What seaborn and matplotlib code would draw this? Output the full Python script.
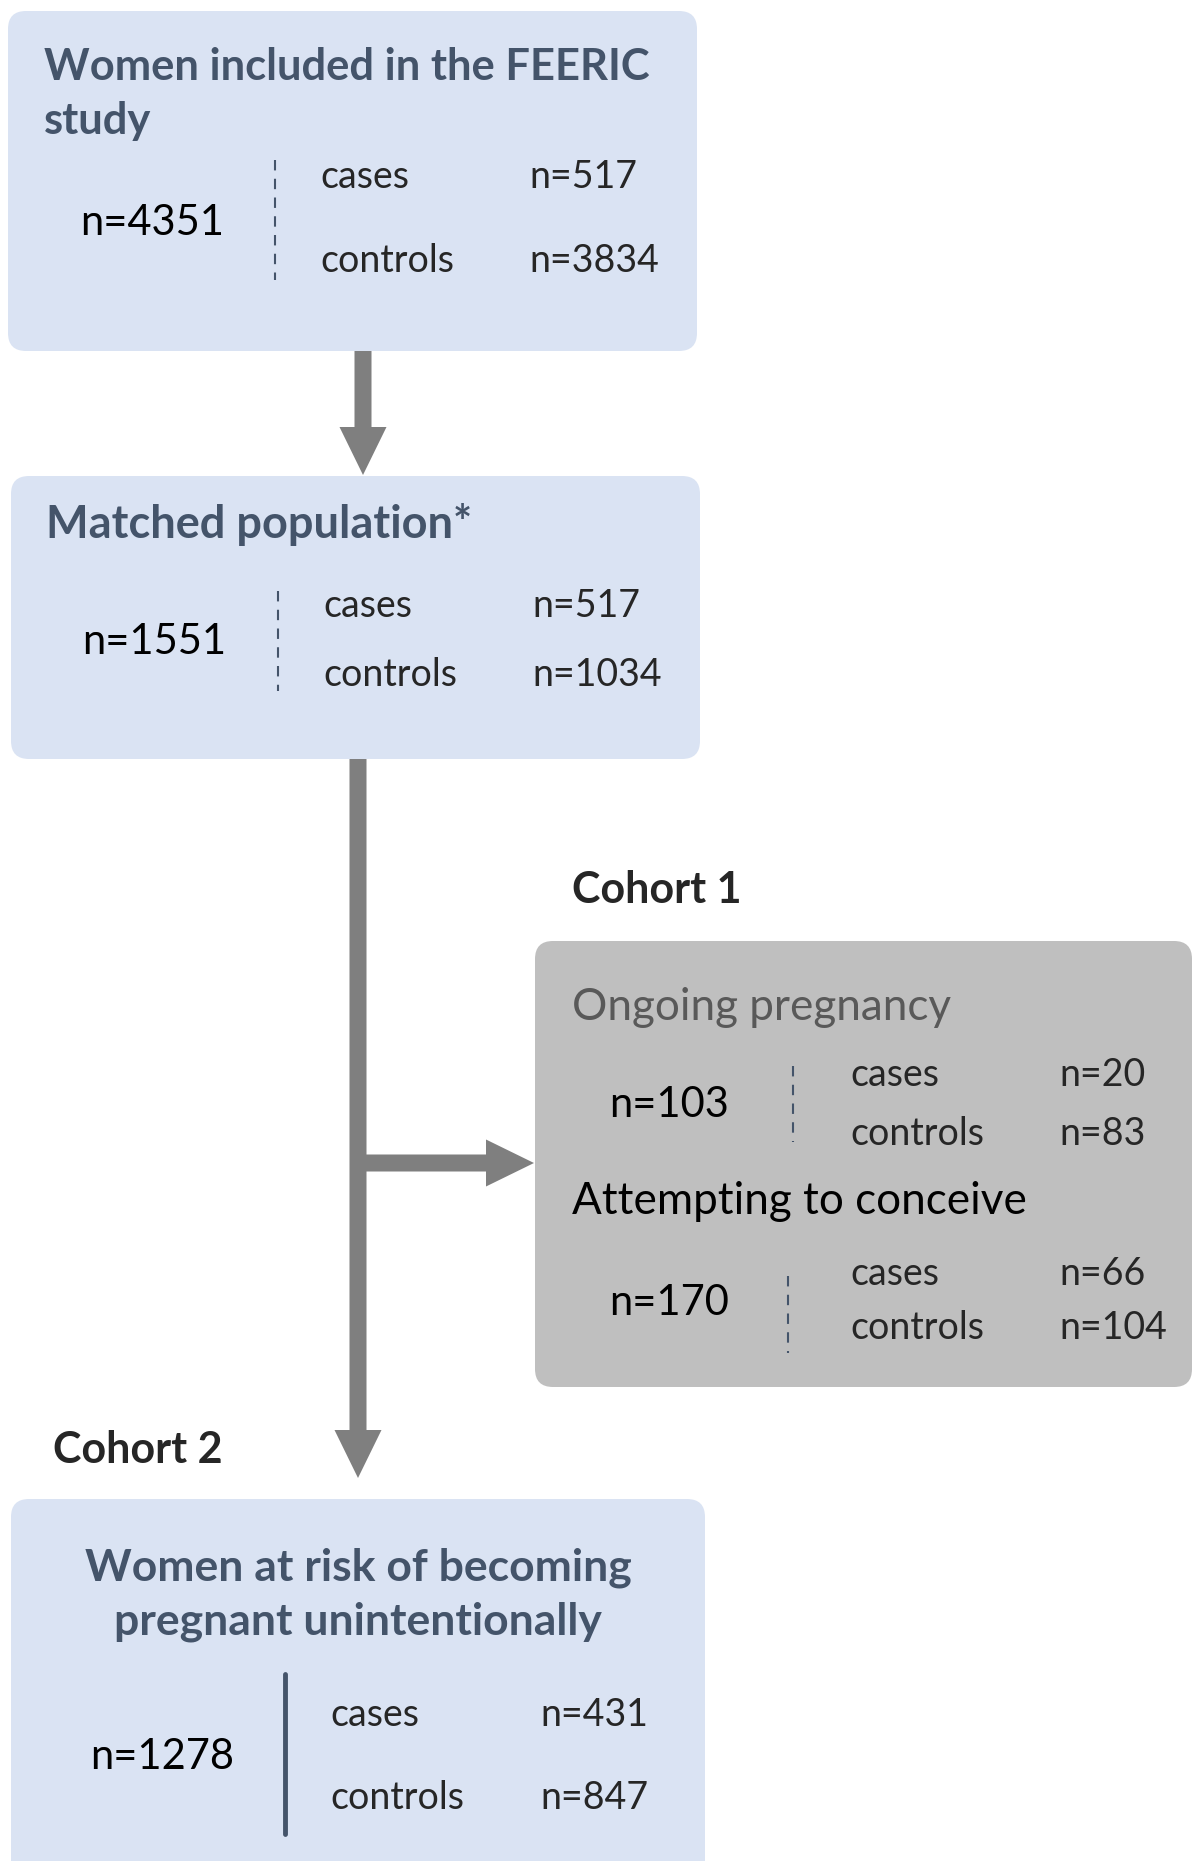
import matplotlib
matplotlib.use("Agg")
import matplotlib.pyplot as plt
from matplotlib.patches import FancyBboxPatch, FancyArrow
import seaborn as sns

# Flowchart data
box_titles = ["Women included in the FEERIC\nstudy", "Matched population*",
              "Ongoing pregnancy", "Attempting to conceive",
              "Women at risk of becoming\npregnant unintentionally"]
totals = [4351, 1551, 103, 170, 1278]
n_cases = [517, 517, 20, 66, 431]
n_controls = [3834, 1034, 83, 104, 847]
group_labels = ["cases", "controls"]
cohort_labels = ["Cohort 1", "Cohort 2"]

sns.set_theme(style="white")
plt.rcParams['font.family'] = ['Lato', 'DejaVu Sans']

W, H = 1199, 1861
fig = plt.figure(figsize=(W / 100, H / 100), dpi=100)
ax = fig.add_axes([0, 0, 1, 1])
ax.set_xlim(0, W)
ax.set_ylim(H, 0)
ax.axis('off')

blue = '#DAE3F3'
gray_box = '#BFBFBF'
arrow_c = '#7F7F7F'
slate = '#44546A'


def rbox(x0, y0, x1, y1, color):
    ax.add_patch(FancyBboxPatch((x0, y0), x1 - x0, y1 - y0,
                                boxstyle="round,pad=0,rounding_size=18",
                                fc=color, ec='none', zorder=1))


def counts(i, x_tot, y_tot, x_div, y_div, x_lab, x_num, y_c, y_k, ls='--', lw=1.5):
    ax.text(x_tot, y_tot, f"n={totals[i]}", fontsize=30, ha='left', va='center', color='black')
    ax.plot([x_div, x_div], y_div, color=slate, lw=lw, ls=ls,
            dashes=(5, 4) if ls == '--' else (None, None), zorder=3)
    ax.text(x_lab, y_c, group_labels[0], fontsize=27, ha='left', va='center')
    ax.text(x_lab, y_k, group_labels[1], fontsize=27, ha='left', va='center')
    ax.text(x_num, y_c, f"n={n_cases[i]}", fontsize=27, ha='left', va='center')
    ax.text(x_num, y_k, f"n={n_controls[i]}", fontsize=27, ha='left', va='center')


# Box 1
rbox(8, 11, 697, 351, blue)
ax.text(44, 94, box_titles[0], fontsize=31.3, fontweight='bold', color=slate,
        ha='left', va='center', linespacing=1.45)
counts(0, 80, 223, 275, [160, 280], 320, 529, 177, 261)

# Arrow 1
ax.add_patch(FancyArrow(363, 351, 0, 124, width=17, head_width=47, head_length=48,
                        length_includes_head=True, color=arrow_c, lw=0))

# Box 2
rbox(11, 476, 700, 759, blue)
ax.text(46, 525, box_titles[1], fontsize=32.5, fontweight='bold', color=slate,
        ha='left', va='center')
counts(1, 82, 642, 278, [591, 691], 323, 532, 606, 675)

# Main shaft + arrow to Cohort 2
ax.add_patch(FancyArrow(358, 759, 0, 719, width=17, head_width=47, head_length=48,
                        length_includes_head=True, color=arrow_c, lw=0))
# Branch arrow to Cohort 1
ax.add_patch(FancyArrow(360, 1163, 174, 0, width=17, head_width=47, head_length=48,
                        length_includes_head=True, color=arrow_c, lw=0))

# Cohort 1 box
ax.text(572, 890, cohort_labels[0], fontsize=31, fontweight='bold', ha='left', va='center')
rbox(535, 941, 1192, 1387, gray_box)
ax.text(572, 1008, box_titles[2], fontsize=31.7, color='#595959', ha='left', va='center')
counts(2, 609, 1105, 793, [1066, 1142], 850, 1059, 1075, 1134)
ax.text(572, 1202, box_titles[3], fontsize=31.7, color='black', ha='left', va='center')
counts(3, 609, 1303, 788, [1276, 1353], 850, 1059, 1274, 1328)

# Cohort 2 box
ax.text(53, 1450, cohort_labels[1], fontsize=31, fontweight='bold', ha='left', va='center')
rbox(11, 1499, 705, 1890, blue)
ax.text(358, 1595, box_titles[4], fontsize=32, fontweight='bold', color=slate,
        ha='center', va='center', linespacing=1.4)
counts(4, 90, 1757, 285, [1674, 1834], 330, 540, 1715, 1798, ls='-', lw=3.5)

fig.savefig('out.png', dpi=100)
